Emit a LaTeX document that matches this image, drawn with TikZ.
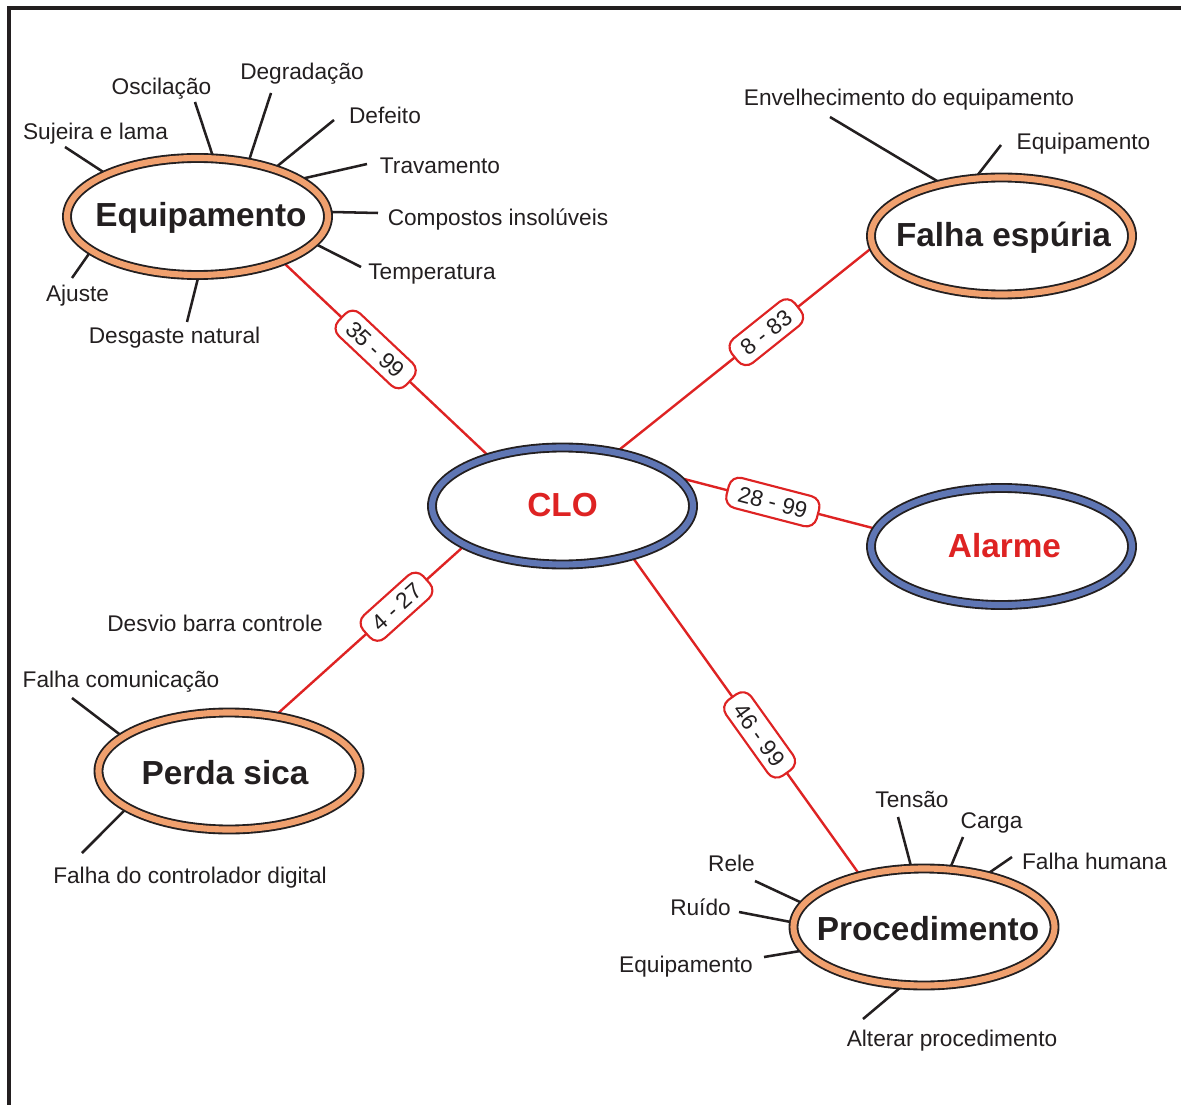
\documentclass[tikz,border=0pt]{standalone}
\usepackage{fontspec}
\setmainfont{Liberation Sans}
\usetikzlibrary{shapes.geometric,backgrounds}
\definecolor{inkc}{RGB}{35,31,32}
\definecolor{redc}{RGB}{222,35,35}
\definecolor{orangec}{RGB}{240,160,110}
\definecolor{bluec}{RGB}{95,118,180}
\newcommand\lblfont{\fontsize{17}{20}\selectfont}
\newcommand\bubfont{\fontsize{25}{28}\selectfont\bfseries}
\begin{document}
\begin{tikzpicture}[x=0.75pt,y=-0.75pt,
  bubble/.style={ellipse, draw=inkc, line width=1.4pt, double=#1, double distance=4.6pt,
    fill=white, minimum width=195.75pt, minimum height=87.75pt, inner sep=0pt},
  bubtext/.style={font=\bubfont, yshift=-1pt},
  lbl/.style={font=\lblfont, text=inkc, inner sep=0pt, text height=12.2pt, text depth=3.6pt},
  spoke/.style={draw=inkc, line width=1.9pt},
  redline/.style={draw=redc, line width=1.8pt},
  tag/.style={draw=redc, line width=1.6pt, fill=white, rounded corners=8pt, font=\lblfont,
    text=inkc, inner xsep=8.5pt, inner ysep=5.5pt, text height=12.2pt, text depth=0pt, sloped}
]
\useasboundingbox (0,0) rectangle (1181,1105);
\draw[inkc, line width=3pt] (8.5,1106) -- (8.5,8.5) -- (1182,8.5);

% bubbles
\node[bubble=orangec, label={[bubtext, text=inkc, xshift=2.6pt]center:Equipamento}] (equip) at (197.5,216.5) {};
\node[bubble=orangec, label={[bubtext, text=inkc, xshift=1.5pt]center:Falha espúria}] (falha) at (1001.5,236) {};
\node[bubble=bluec, label={[bubtext, text=redc, yshift=1.5pt]center:CLO}] (clo) at (562.5,506) {};
\node[bubble=bluec, label={[bubtext, text=redc, xshift=2.2pt, yshift=1.5pt]center:Alarme}] (alarme) at (1001.5,546.5) {};
\node[bubble=orangec, label={[bubtext, text=inkc, xshift=-3pt]center:Perda sica}] (perda) at (229,771) {};
\node[bubble=orangec, label={[bubtext, text=inkc, xshift=3pt]center:Procedimento}] (proc) at (924,927) {};

% text labels
\node[lbl] (tsuj) at (95.5,134) {Sujeira e lama};
\node[lbl] (tosc) at (161.5,89) {Oscilação};
\node[lbl] (tdeg) at (302,74) {Degradação};
\node[lbl] (tdef) at (385,118) {Defeito};
\node[lbl] (ttra) at (440,168) {Travamento};
\node[lbl] (tcom) at (498,220) {Compostos insolúveis};
\node[lbl] (ttem) at (432,274) {Temperatura};
\node[lbl] (taju) at (77.5,296) {Ajuste};
\node[lbl] (tdes) at (174.5,338) {Desgaste natural};
\node[lbl] (tenv) at (909,100) {Envelhecimento do equipamento};
\node[lbl] (tfeq) at (1083.5,144) {Equipamento};
\node[lbl] (tdev) at (215,626) {Desvio barra controle};
\node[lbl] (tfco) at (121,682) {Falha comunicação};
\node[lbl] (tfct) at (190,878) {Falha do controlador digital};
\node[lbl] (tten) at (912,802) {Tensão};
\node[lbl] (tcar) at (991.5,823) {Carga};
\node[lbl] (thum) at (1094.5,864) {Falha humana};
\node[lbl] (trel) at (731.5,866) {Rele};
\node[lbl] (trui) at (700.5,910) {Ruído};
\node[lbl] (tpeq) at (686,967) {Equipamento};
\node[lbl] (talt) at (952,1041) {Alterar procedimento};

% spoke free ends
\coordinate (ssuj) at (65,147);
\coordinate (sosc) at (195,102);
\coordinate (sdeg) at (271,93);
\coordinate (sdef) at (334,120);
\coordinate (stra) at (367,164);
\coordinate (scom) at (378,213);
\coordinate (stem) at (361,267);
\coordinate (saju) at (72,278);
\coordinate (sdes) at (187,322);
\coordinate (senv) at (830,117);
\coordinate (sfeq) at (1001,145);
\coordinate (sfco) at (72,698);
\coordinate (sfct) at (82,853);
\coordinate (sten) at (898,817);
\coordinate (scar) at (963,837);
\coordinate (shum) at (1012,857);
\coordinate (srel) at (755,881);
\coordinate (srui) at (739,912);
\coordinate (speq) at (764,957);
\coordinate (salt) at (863,1019);

\begin{scope}[on background layer]
  \draw[spoke] (equip.155.6) -- (ssuj);
  \draw[spoke] (equip.75.4) -- (sosc);
  \draw[spoke] (equip.47) -- (sdeg);
  \draw[spoke] (equip.32.6) -- (sdef);
  \draw[spoke] (equip.20.2) -- (stra);
  \draw[spoke] (equip.2.3) -- (scom);
  \draw[spoke] (equip.-13.5) -- (stem);
  \draw[spoke] (equip.-162.9) -- (saju);
  \draw[spoke] (equip.-89.6) -- (sdes);
  \draw[spoke] (falha.139.8) -- (senv);
  \draw[spoke] (falha.114) -- (sfeq);
  \draw[spoke] (perda.162.8) -- (sfco);
  \draw[spoke] (perda.-160.6) -- (sfct);
  \draw[spoke] (proc.102.5) -- (sten);
  \draw[spoke] (proc.66.8) -- (scar);
  \draw[spoke] (proc.40.4) -- (shum);
  \draw[spoke] (proc.169.2) -- (srel);
  \draw[spoke] (proc.178.7) -- (srui);
  \draw[spoke] (proc.-169) -- (speq);
  \draw[spoke] (proc.-110.9) -- (salt);

  \draw[redline] (equip.-28.5) -- node[tag, pos=0.45] (l1) {35 - 99} (clo.146.5);
  \draw[redline] (clo.45.5) -- node[tag, pos=0.585] (l2) {8 - 83} (falha.-175.3);
  \draw[redline] (clo.14.7) -- node[tag, pos=0.48] (l3) {28 - 99} (alarme.172);
  \draw[redline] (clo.-158.3) -- node[tag, pos=0.36] (l4) {4 - 27} (perda.50.9);
  \draw[redline] (clo.-36.5) -- node[tag, pos=0.56] (l5) {46 - 99} (proc.141.5);
\end{scope}
\end{tikzpicture}
\end{document}
